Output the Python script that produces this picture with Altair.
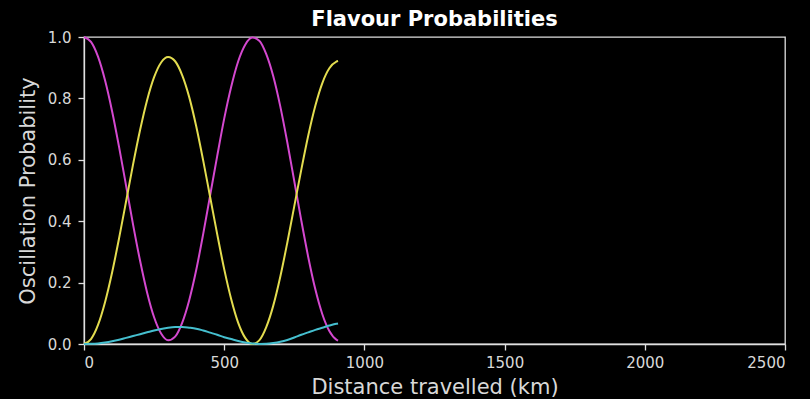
import altair as alt
import pandas as pd

distance_km = [0, 25, 50, 75, 100, 125, 150, 175, 200, 225, 250, 275, 300, 325, 350,
               375, 400, 425, 450, 475, 500, 525, 550, 575, 600, 625, 650, 675, 700,
               725, 750, 775, 800, 825, 850, 875, 900, 906]

prob_magenta = [1.0, 0.984, 0.936, 0.859, 0.759, 0.642, 0.516, 0.389, 0.271, 0.168,
                0.087, 0.034, 0.012, 0.024, 0.069, 0.142, 0.240, 0.358, 0.485, 0.612,
                0.734, 0.838, 0.921, 0.975, 0.998, 0.988, 0.944, 0.872, 0.774, 0.657,
                0.530, 0.402, 0.282, 0.178, 0.097, 0.042, 0.014, 0.011]

prob_yellow = [0.0, 0.016, 0.062, 0.136, 0.232, 0.344, 0.464, 0.585, 0.697, 0.794,
               0.869, 0.917, 0.935, 0.921, 0.876, 0.805, 0.710, 0.598, 0.478, 0.358,
               0.244, 0.146, 0.069, 0.020, 0.000, 0.012, 0.055, 0.125, 0.219, 0.330,
               0.449, 0.568, 0.680, 0.776, 0.850, 0.898, 0.920, 0.922]

prob_cyan = [0.0, 0.0005, 0.002, 0.005, 0.009, 0.014, 0.020, 0.026, 0.032, 0.038,
             0.044, 0.049, 0.053, 0.055, 0.055, 0.053, 0.050, 0.044, 0.037, 0.030,
             0.022, 0.016, 0.010, 0.005, 0.002, 0.0, 0.0005, 0.003, 0.007, 0.013,
             0.021, 0.030, 0.038, 0.046, 0.053, 0.060, 0.066, 0.067]

series_names = ["magenta", "yellow", "cyan"]
series_colors = ["#d448cf", "#e3dc4f", "#45bfcf"]

rows = []
for name, vals in zip(series_names, [prob_magenta, prob_yellow, prob_cyan]):
    for d, v in zip(distance_km, vals):
        rows.append({"distance": d, "prob": v, "series": name})
df = pd.DataFrame(rows)

FONT = "DejaVu Sans"

chart = alt.Chart(df).mark_line(strokeWidth=2, interpolate="monotone").encode(
    x=alt.X("distance:Q",
            scale=alt.Scale(domain=[0, 2500], nice=False, zero=False),
            axis=alt.Axis(title="Distance travelled (km)", values=[0, 500, 1000, 1500, 2000, 2500],
                          format="d", labelPadding=5, titlePadding=6)),
    y=alt.Y("prob:Q",
            scale=alt.Scale(domain=[0, 1], nice=False),
            axis=alt.Axis(title="Oscillation Probability", values=[0, 0.2, 0.4, 0.6, 0.8, 1.0],
                          format=".1f", labelPadding=7, titlePadding=9)),
    color=alt.Color("series:N", scale=alt.Scale(domain=series_names, range=series_colors), legend=None),
    detail="series:N",
).properties(
    width=701,
    height=307,
    background="black",
    padding={"left": 84, "top": 37, "right": 25, "bottom": 55},
    autosize=alt.AutoSizeParams(type="none"),
    title=alt.TitleParams("Flavour Probabilities", font=FONT, fontSize=21, fontWeight="bold",
                          color="white", anchor="middle", offset=0),
).configure_view(
    stroke="#e0e0e0", strokeWidth=1.3, fill="black"
).configure_axis(
    grid=False,
    domainColor="#e0e0e0",
    domainWidth=1.3,
    tickColor="#e0e0e0",
    tickWidth=1.3,
    tickSize=6,
    labelColor="#d8d8d8",
    labelFont=FONT,
    labelFontSize=15,
    titleColor="#d8d8d8",
    titleFont=FONT,
    titleFontSize=21,
    titleFontWeight="normal",
)

chart.save("out.html", embed_options={"renderer": "svg", "actions": False})
